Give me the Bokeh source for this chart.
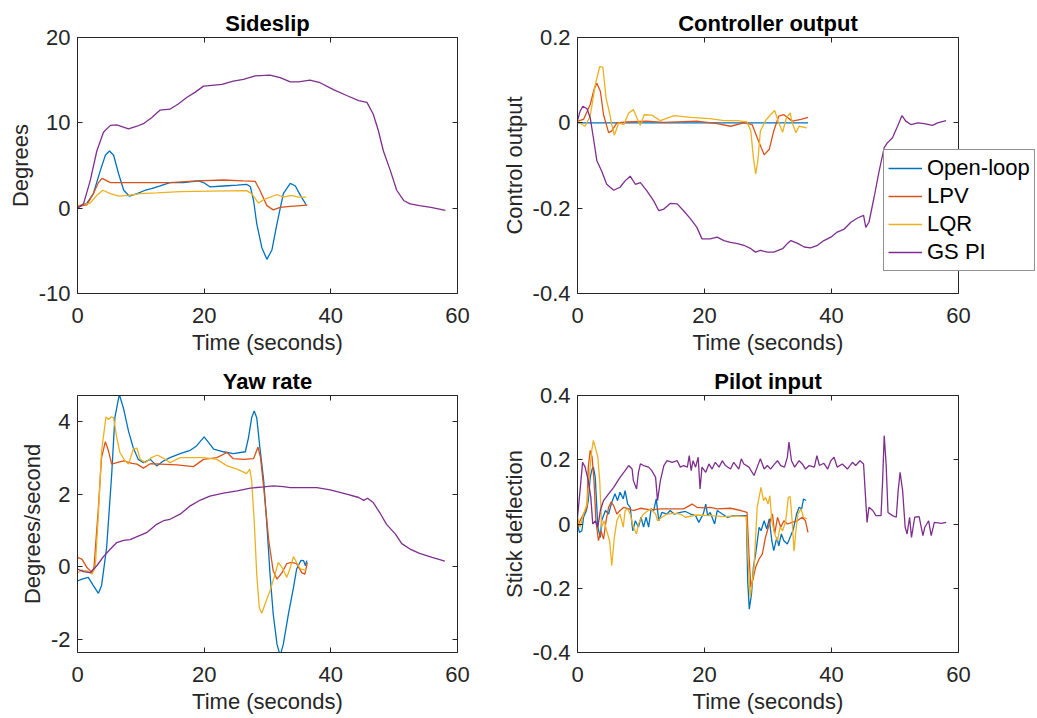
from bokeh.plotting import figure
from bokeh.models import (Range1d, LinearAxis, FixedTicker, Legend, LegendItem,
                          NumeralTickFormatter, CustomLabelingPolicy)
from bokeh.layouts import column, row
from bokeh.embed import file_html
from bokeh.resources import INLINE

# ---------------- data ----------------
series_names = ["Open-loop", "LPV", "LQR", "GS PI"]
series_colors = ["#0072BD", "#D95319", "#EDB120", "#7E2F8E"]

x_ticks = [0, 20, 40, 60]

# Sideslip (degrees)
side_ol_t = [0, 1.5, 2.5, 3.6, 4.4, 5.05, 5.7, 6.5, 7.3, 8.2, 9.4, 10.7, 11.7, 13.05, 14.6, 16.7, 19.1, 19.9, 20.9, 23.05, 25.2, 26.7, 27.3, 27.8, 28.3, 29.1, 29.9, 30.7, 31.5, 32.5, 33.6, 34.4, 35.2, 36.1]
side_ol_y = [0.1, 0.6, 1.7, 4.4, 6.2, 6.7, 6.2, 4.0, 2.1, 1.4, 1.7, 2.1, 2.3, 2.6, 3.0, 3.0, 3.2, 3.0, 2.5, 2.6, 2.7, 2.8, 2.5, 0.9, -1.8, -4.6, -6.0, -4.9, -1.8, 1.7, 2.9, 2.6, 1.5, 0.4]
side_lpv_t = [0, 1.5, 2.5, 3.3, 3.9, 5.2, 7.8, 10.9, 14.6, 18.8, 23.05, 26.2, 28.05, 28.8, 29.9, 30.9, 32, 33.6, 36.3]
side_lpv_y = [0.2, 0.4, 1.7, 3.0, 3.5, 3.0, 3.0, 3.0, 3.0, 3.2, 3.3, 3.2, 3.15, 2.1, 0.3, -0.2, 0.1, 0.2, 0.35]
side_lqr_t = [0, 2, 3.05, 4, 5.2, 6.5, 8.05, 9.9, 12.5, 16.2, 20.9, 26.7, 27.5, 28.6, 29.4, 31.5, 32.5, 33.8, 34.9, 36.1]
side_lqr_y = [0.3, 0.6, 1.5, 2.1, 1.7, 1.4, 1.5, 1.7, 1.8, 1.95, 2.0, 2.05, 1.7, 0.6, 1.0, 1.6, 1.3, 1.5, 1.3, 1.3]
side_gs_t = [0, 0.95, 2, 3.05, 4.1, 5.2, 6.2, 8.05, 9.4, 10.4, 11.7, 13.05, 14.6, 15.9, 17.3, 18.6, 19.9, 21.2, 22.8, 24.6, 26.2, 28.05, 30.4, 32, 33.6, 34.9, 36.7, 38.3, 40.4, 42.5, 44.4, 45.7, 46.7, 47.5, 48.3, 49.4, 50.4, 51.5, 52.5, 54, 55.8, 58.1]
side_gs_y = [0, 0.5, 3.2, 6.7, 8.9, 9.7, 9.75, 9.3, 9.6, 9.9, 10.6, 11.5, 11.6, 12.2, 13.0, 13.6, 14.3, 14.4, 14.5, 14.9, 15.1, 15.5, 15.6, 15.3, 14.8, 14.8, 15.0, 14.7, 13.9, 13.2, 12.6, 12.4, 11.0, 9.1, 6.7, 4.4, 2.1, 0.9, 0.5, 0.3, 0.1, -0.25]

# Controller output
ctrl_ol_t = [0, 9, 18, 27, 36.3]
ctrl_ol_y = [0, 0, 0, 0, 0]
ctrl_lpv_t = [0, 0.95, 2, 2.6, 3.05, 3.6, 4.1, 4.9, 5.4, 6.2, 7.8, 10.9, 13.6, 18.8, 22, 24.1, 26.2, 27.5, 28.3, 29.4, 30.2, 30.9, 31.7, 32.5, 33.8, 35.2, 36.3]
ctrl_lpv_y = [0.004, 0.008, 0.043, 0.078, 0.093, 0.074, 0.019, -0.023, -0.019, 0, 0.002, 0.004, 0.001, 0.004, -0.002, -0.008, 0, -0.004, -0.035, -0.075, -0.062, -0.019, 0.016, 0.019, 0.004, 0.008, 0.013]
ctrl_lqr_t = [0, 0.7, 1.2, 2, 2.8, 3.5, 4, 4.5, 5.05, 5.4, 5.8, 6.5, 7.3, 8.05, 8.8, 9.4, 9.9, 10.5, 11.7, 13.05, 15.2, 17.8, 20.9, 23.05, 25.2, 26.7, 27.3, 27.7, 28.05, 28.4, 28.8, 29.6, 30.4, 31.05, 31.6, 32.3, 32.9, 33.5, 33.8, 34.4, 34.9, 36.1]
ctrl_lqr_y = [0.005, -0.004, -0.008, 0.016, 0.089, 0.132, 0.13, 0.058, 0.023, -0.004, -0.029, 0, -0.004, 0.023, 0.031, 0.01, -0.006, 0.019, 0.018, 0.005, 0.017, 0.013, 0.01, 0.005, 0.005, 0.002, -0.019, -0.082, -0.12, -0.089, -0.019, 0.005, 0.019, 0.029, 0.004, -0.022, 0.012, 0.023, 0, -0.023, -0.008, -0.012]
ctrl_gs_t = [0, 0.4, 0.84, 1.5, 2, 2.5, 3.05, 3.8, 4.6, 5.7, 6.7, 7.5, 8.3, 9.1, 9.9, 10.9, 12, 12.8, 13.6, 14.6, 15.7, 16.7, 17.8, 18.8, 19.6, 20.9, 22, 23.05, 24.1, 25.2, 26.2, 27.3, 28.05, 28.8, 29.9, 30.9, 32.3, 33.05, 33.6, 34.6, 35.7, 36.7, 37.8, 38.8, 39.9, 40.9, 42, 43.05, 44.1, 45.05, 45.4, 45.9, 46.7, 47.5, 48.3, 48.8, 49.6, 50.4, 51.1, 51.7, 52.5, 53.6, 54.6, 55.9, 56.7, 58.05]
ctrl_gs_y = [0.005, 0.027, 0.039, 0.033, 0.012, -0.035, -0.089, -0.113, -0.144, -0.158, -0.151, -0.136, -0.125, -0.144, -0.14, -0.159, -0.183, -0.206, -0.202, -0.189, -0.19, -0.206, -0.225, -0.245, -0.272, -0.272, -0.268, -0.276, -0.28, -0.283, -0.287, -0.295, -0.303, -0.299, -0.303, -0.303, -0.295, -0.283, -0.276, -0.282, -0.291, -0.293, -0.287, -0.276, -0.268, -0.256, -0.249, -0.233, -0.223, -0.217, -0.245, -0.233, -0.175, -0.113, -0.058, -0.047, -0.035, -0.008, 0.017, 0.004, -0.004, 0, -0.002, -0.006, 0, 0.005]

# Yaw rate (degrees/second)
yaw_ol_t = [0, 0.7, 1.7, 2.5, 3.3, 3.8, 4.6, 5.4, 5.9, 6.6, 7.3, 8.05, 8.8, 9.6, 10.4, 11.5, 12.5, 13.6, 14.6, 16.2, 17.8, 18.8, 20, 20.9, 21.5, 23.05, 24.6, 26.5, 27, 27.5, 27.9, 28.3, 28.8, 29.4, 29.9, 30.4, 30.9, 31.5, 32, 32.5, 33.3, 34.1, 34.6, 35.3, 35.7, 36, 36.2]
yaw_ol_y = [-0.39, -0.34, -0.29, -0.52, -0.73, -0.52, 0.53, 2.55, 4.11, 4.75, 4.34, 3.74, 3.28, 2.96, 2.87, 2.96, 2.78, 2.92, 3.01, 3.12, 3.21, 3.33, 3.58, 3.38, 3.24, 3.17, 3.12, 3.17, 3.56, 4.11, 4.29, 4.11, 3.28, 2.37, 1.17, -0.2, -1.3, -2.13, -2.45, -2.13, -1.3, -0.57, -0.06, 0.18, 0.17, 0.03, 0.17]
yaw_lpv_t = [0, 0.7, 1.5, 2.3, 2.6, 3.3, 3.8, 4.4, 4.9, 5.4, 6.2, 7.3, 8.6, 9.4, 10.4, 11.5, 13.05, 15.7, 18.3, 19.9, 22, 23.6, 24.6, 26.2, 27.8, 28.5, 28.9, 29.4, 30.2, 30.9, 31.5, 32.3, 33.05, 33.8, 34.6, 35.4, 35.9, 36.3]
yaw_lpv_y = [0.26, 0.21, -0.02, -0.16, -0.02, 1.63, 3.01, 3.45, 3.19, 2.83, 2.87, 2.92, 2.85, 2.83, 2.72, 2.84, 2.83, 2.81, 2.76, 2.96, 3.01, 3.15, 2.98, 2.96, 2.98, 3.3, 3.01, 2.18, 0.72, -0.11, -0.34, -0.16, 0.09, 0.12, 0.09, -0.16, -0.2, 0.12]
yaw_lqr_t = [0, 0.7, 1.5, 2.3, 2.8, 3.3, 3.8, 4.5, 4.9, 5.3, 5.7, 6.2, 6.7, 7.5, 8.05, 8.8, 9.4, 9.9, 10.7, 11.7, 12.6, 13.6, 14.6, 16.2, 17.8, 19.9, 22, 23.6, 25.2, 26.7, 27.2, 27.5, 27.9, 28.3, 28.7, 29.1, 29.6, 30.4, 31.2, 31.7, 32.3, 33.05, 33.6, 34.1, 34.6, 35.2, 36.1]
yaw_lqr_y = [-0.16, -0.09, -0.11, -0.2, -0.02, 1.45, 3.19, 4.13, 4.06, 4.13, 4.11, 3.56, 3.15, 2.92, 2.83, 3.24, 3.27, 2.96, 2.87, 3.01, 3.08, 2.99, 2.87, 3.01, 3.01, 3.01, 2.96, 2.78, 2.69, 2.57, 2.69, 2.37, 1.27, -0.2, -1.12, -1.28, -1.03, -0.66, -0.2, 0.12, -0.02, -0.29, -0.02, 0.28, 0.12, -0.06, -0.09]
yaw_gs_t = [0, 0.95, 2, 3.05, 4.1, 5.2, 6.2, 7.3, 8.3, 9.4, 10.9, 12.5, 13.6, 14.6, 16.2, 17.8, 19.4, 20.9, 23.05, 25.2, 27.3, 29.4, 30.9, 32.5, 33.6, 35.7, 37.8, 39.9, 42.5, 44.4, 45.2, 45.8, 46.7, 47.8, 48.8, 50.2, 51.2, 52.5, 54, 56, 58]
yaw_gs_y = [-0.06, -0.13, -0.16, 0.03, 0.28, 0.49, 0.67, 0.73, 0.75, 0.83, 0.94, 1.17, 1.27, 1.31, 1.45, 1.68, 1.84, 1.95, 2.03, 2.09, 2.17, 2.2, 2.23, 2.21, 2.18, 2.18, 2.18, 2.12, 2.0, 1.91, 1.83, 1.89, 1.77, 1.47, 1.17, 0.9, 0.64, 0.49, 0.37, 0.26, 0.16]

# Pilot input (stick deflection)
pil_ol_t = [0, 0.3, 0.7, 0.95, 1.4, 1.7, 2, 2.3, 2.5, 2.8, 3.2, 3.6, 3.8, 4.4, 4.9, 5.4, 5.9, 6.3, 6.7, 7.2, 7.5, 7.9, 8.3, 8.7, 9.1, 9.6, 10, 10.4, 10.8, 11.2, 11.6, 12, 12.4, 12.8, 13.3, 14.1, 14.6, 15.2, 16.2, 17, 17.8, 18.6, 19.1, 19.8, 20.2, 20.5, 20.9, 21.6, 22, 22.8, 23.6, 24.6, 25.7, 26.6, 26.8, 27.05, 27.4, 27.7, 28.05, 28.6, 28.9, 29.4, 29.8, 30.2, 30.6, 30.9, 31.4, 31.7, 32.1, 32.5, 33.05, 33.6, 34, 34.5, 34.9, 35.3, 35.6, 36]
pil_ol_y = [0, -0.026, -0.021, 0.021, 0.042, 0.073, 0.145, 0.171, 0.177, 0.145, -0.01, -0.042, 0.01, 0.042, 0.031, 0.068, 0.094, 0.073, 0.099, 0.078, 0.104, 0.062, 0.052, -0.021, 0.01, -0.01, 0.021, -0.01, 0.021, -0.01, 0.047, 0.042, 0.078, 0.01, 0.036, 0.031, 0.042, 0.031, 0.036, 0.039, 0.031, 0.026, 0.005, 0.031, 0.062, 0.026, 0.036, 0, 0.042, 0.031, 0.021, 0.026, 0.026, 0.026, -0.177, -0.265, -0.218, -0.135, -0.094, -0.01, -0.021, 0.01, -0.016, 0.016, -0.052, -0.083, -0.042, -0.068, -0.031, -0.052, -0.062, -0.036, -0.016, 0.031, 0.052, 0.047, 0.078, 0.073]
pil_lpv_t = [0, 0.4, 0.95, 1.5, 1.7, 2, 2.3, 2.6, 2.9, 3.3, 3.7, 4.1, 4.5, 4.9, 5.3, 5.7, 6.2, 6.7, 7.3, 8.05, 8.8, 9.9, 11.5, 13.05, 15.2, 16.7, 18.05, 18.8, 19.9, 20.9, 22, 24.1, 25.7, 26.7, 27, 27.3, 27.7, 28.05, 28.6, 29.1, 29.6, 30.2, 30.7, 31.05, 31.5, 32, 32.5, 33.05, 33.8, 34.6, 35.4, 35.9, 36.3]
pil_lpv_y = [-0.01, 0.01, 0.031, 0.052, 0.177, 0.229, 0.208, 0.135, 0.01, -0.052, -0.021, -0.047, 0.01, 0.052, 0.068, 0.057, 0.031, 0.042, 0.052, 0.047, 0.042, 0.049, 0.044, 0.047, 0.047, 0.047, 0.062, 0.052, 0.05, 0.052, 0.047, 0.049, 0.042, 0.036, -0.094, -0.197, -0.166, -0.135, -0.109, -0.094, -0.042, 0, 0.031, -0.031, 0.021, -0.01, 0.01, 0, 0.005, 0.01, 0.021, 0.01, -0.026]
pil_lqr_t = [0, 0.4, 0.95, 1.5, 1.9, 2.2, 2.5, 2.8, 3.2, 3.5, 3.8, 4.2, 4.6, 5.05, 5.4, 5.8, 6.2, 6.7, 7.2, 7.5, 7.9, 8.3, 8.8, 9.3, 9.6, 10.2, 10.7, 11.5, 12.3, 12.6, 13.3, 14.1, 15.2, 16.2, 17, 18.8, 20.9, 23.05, 25.2, 26.6, 26.9, 27.2, 27.4, 27.8, 28.05, 28.3, 28.7, 28.9, 29.3, 29.6, 30, 30.3, 30.6, 31.05, 31.5, 31.9, 32.3, 32.8, 33.2, 33.5, 33.8, 34.1, 34.4, 34.7, 35.2, 35.6, 36.1]
pil_lqr_y = [0.021, -0.01, 0.031, 0.062, 0.156, 0.223, 0.26, 0.239, 0.208, 0.135, -0.01, 0.01, -0.021, -0.052, -0.13, -0.042, 0.01, 0.031, -0.01, 0.042, 0.047, 0.031, -0.01, -0.031, 0, 0.026, 0.036, 0.047, 0.031, 0.01, 0.021, 0.031, 0.033, 0.031, 0.021, 0.028, 0.026, 0.023, 0.025, 0.023, -0.125, -0.229, -0.197, -0.135, -0.042, 0.052, 0.094, 0.114, 0.073, 0.083, 0.062, 0.088, 0.01, -0.031, -0.052, -0.01, -0.021, 0.01, 0.083, 0.085, 0.01, -0.085, -0.021, 0.031, 0.047, 0.021, 0.016]
pil_gs_t = [0, 0.4, 0.8, 1.2, 1.7, 2.1, 2.4, 2.8, 3.2, 3.6, 4.1, 4.9, 5.7, 6.7, 7.5, 8.05, 8.6, 8.8, 9.3, 9.6, 9.9, 10.4, 11.2, 11.7, 12.3, 12.6, 13.05, 13.6, 14.1, 14.9, 15.7, 16.2, 16.7, 17.3, 17.6, 17.9, 18.2, 18.6, 19, 19.3, 19.6, 20.2, 20.7, 21.2, 21.7, 22.3, 22.8, 23.3, 24.1, 24.6, 25.4, 25.8, 26.2, 27, 27.8, 28.3, 28.8, 29.4, 29.9, 30.4, 31.05, 31.5, 32, 32.6, 33.05, 33.3, 33.7, 34.2, 34.9, 35.4, 35.9, 36.5, 37.3, 37.7, 38.1, 38.8, 39.4, 39.9, 40.4, 40.9, 41.7, 42.5, 43.3, 43.8, 44.5, 45.05, 45.3, 45.6, 45.9, 46.5, 47, 47.8, 48.05, 48.3, 48.6, 48.9, 49.6, 50.2, 50.5, 50.8, 51.2, 51.6, 51.9, 52.3, 52.6, 53.1, 53.8, 54.4, 54.7, 55.3, 55.7, 56.2, 57.3, 58.05]
pil_gs_y = [0.021, 0.104, 0.192, 0.177, 0.135, 0.083, 0, 0.01, -0.01, 0.042, 0.073, 0.094, 0.114, 0.145, 0.166, 0.182, 0.171, 0.135, 0.109, 0.161, 0.187, 0.182, 0.177, 0.166, 0.145, 0.073, 0.135, 0.182, 0.197, 0.192, 0.197, 0.177, 0.182, 0.177, 0.213, 0.166, 0.197, 0.177, 0.208, 0.109, 0.177, 0.161, 0.187, 0.171, 0.192, 0.177, 0.197, 0.182, 0.171, 0.192, 0.171, 0.203, 0.187, 0.177, 0.151, 0.177, 0.203, 0.171, 0.182, 0.171, 0.187, 0.197, 0.182, 0.177, 0.208, 0.255, 0.197, 0.177, 0.197, 0.187, 0.171, 0.182, 0.177, 0.213, 0.182, 0.189, 0.171, 0.197, 0.208, 0.177, 0.187, 0.171, 0.192, 0.182, 0.197, 0.187, 0.104, 0.005, 0.052, 0.042, 0.026, 0.026, 0.135, 0.275, 0.187, 0.036, 0.026, 0.021, 0.104, 0.161, 0.104, -0.01, -0.031, 0.021, -0.042, 0.021, 0.023, -0.036, -0.01, 0.01, -0.036, 0.005, 0.002, 0.005]

# ---------------- styling helpers ----------------
FONT = "Liberation Sans"
AXC = "#262626"
FS = "22px"

HIDE_LABELS = "const ids = [...indices]; for (const i of ids) { indices.unset(i) } return indices"


def style_axis(ax, ticks, show_labels=True, standoff=10):
    ax.ticker = FixedTicker(ticks=ticks)
    ax.formatter = NumeralTickFormatter(format="0.[0]")
    ax.major_tick_in = 5
    ax.major_tick_out = 0
    ax.minor_tick_line_color = None
    ax.axis_line_color = AXC
    ax.axis_line_width = 1
    ax.major_tick_line_color = AXC
    ax.major_label_text_font = FONT
    ax.major_label_text_color = AXC
    ax.axis_label_text_font = FONT
    ax.axis_label_text_font_size = FS
    ax.axis_label_text_font_style = "normal"
    ax.axis_label_text_color = AXC
    if show_labels:
        ax.major_label_text_font_size = FS
        ax.major_label_standoff = standoff
    else:
        ax.major_label_text_font_size = "0px"
        ax.major_label_standoff = 0
        ax.major_label_policy = CustomLabelingPolicy(code=HIDE_LABELS)


def make_panel(title, ylabel, yrange, yticks, width, height, bl, br, bt, bb, data):
    p = figure(width=width, height=height, x_range=Range1d(0, 60), y_range=Range1d(*yrange),
               output_backend="svg", toolbar_location=None,
               min_border_left=bl, min_border_right=br, min_border_top=bt, min_border_bottom=bb)
    p.title.text = title
    p.title.align = "center"
    p.title.text_font = FONT
    p.title.text_font_size = FS
    p.title.text_font_style = "bold"
    p.title.text_color = "black"
    p.title.standoff = 4
    p.xgrid.visible = False
    p.ygrid.visible = False
    p.outline_line_color = None
    p.background_fill_color = "white"
    p.border_fill_color = "white"

    style_axis(p.xaxis[0], x_ticks, standoff=14)
    p.xaxis[0].axis_label = "Time (seconds)"
    p.xaxis[0].axis_label_standoff = 4
    style_axis(p.yaxis[0], yticks, standoff=7)
    p.yaxis[0].axis_label = ylabel
    p.yaxis[0].axis_label_standoff = 3

    top = LinearAxis()
    style_axis(top, x_ticks, show_labels=False)
    p.add_layout(top, "above")
    right = LinearAxis()
    style_axis(right, yticks, show_labels=False)
    p.add_layout(right, "right")

    rends = []
    for (t, y), c in zip(data, series_colors):
        rends.append(p.line(t, y, line_color=c, line_width=1.3))
    return p, rends


ctrl_data = [(ctrl_ol_t, ctrl_ol_y), (ctrl_lpv_t, ctrl_lpv_y), (ctrl_lqr_t, ctrl_lqr_y), (ctrl_gs_t, ctrl_gs_y)]

p1, _ = make_panel("Sideslip", "Degrees", (-10, 20), [-10, 0, 10, 20], 477, 361, 77, 20, 37, 68,
                   [(side_ol_t, side_ol_y), (side_lpv_t, side_lpv_y), (side_lqr_t, side_lqr_y), (side_gs_t, side_gs_y)])
p2, _ = make_panel("Controller output", "Control output", (-0.4, 0.2), [-0.4, -0.2, 0, 0.2], 559, 361, 100, 78, 37, 68,
                   ctrl_data)
p3, _ = make_panel("Yaw rate", "Degrees/second", (-2.36, 4.72), [-2, 0, 2, 4], 477, 356, 77, 20, 34, 65,
                   [(yaw_ol_t, yaw_ol_y), (yaw_lpv_t, yaw_lpv_y), (yaw_lqr_t, yaw_lqr_y), (yaw_gs_t, yaw_gs_y)])
p4, _ = make_panel("Pilot input", "Stick deflection", (-0.4, 0.4), [-0.4, -0.2, 0, 0.2, 0.4], 559, 356, 100, 78, 34, 65,
                   [(pil_ol_t, pil_ol_y), (pil_lpv_t, pil_lpv_y), (pil_lqr_t, pil_lqr_y), (pil_gs_t, pil_gs_y)])

# legend: a small transparent overlay plot pulled left (negative margin) so
# that the legend box straddles the right edge of the "Controller output"
# axes.  Its proxy lines use a y range far away from the data so they are
# clipped out, only their legend swatches are drawn.
leg = figure(width=154, height=361, x_range=Range1d(0, 60), y_range=Range1d(10, 11),
             output_backend="svg", toolbar_location=None, x_axis_type=None, y_axis_type=None,
             min_border_left=0, min_border_right=0, min_border_top=37, min_border_bottom=68)
leg.outline_line_color = None
leg.background_fill_color = None
leg.border_fill_color = None
leg_rends = [leg.line(t, y, line_color=c, line_width=1.3) for (t, y), c in zip(ctrl_data, series_colors)]
legend = Legend(items=[LegendItem(label=n, renderers=[r]) for n, r in zip(series_names, leg_rends)],
                location=(1, 22))
legend.label_text_font = FONT
legend.label_text_font_size = FS
legend.label_text_color = "black"
legend.border_line_color = AXC
legend.border_line_width = 1
legend.background_fill_color = "white"
legend.background_fill_alpha = 1
legend.glyph_width = 34
legend.glyph_height = 28
legend.label_height = 28
legend.label_standoff = 5
legend.padding = 4
legend.spacing = 0
legend.margin = 0
leg.add_layout(legend, "center")
leg.margin = (0, 0, 0, -154)

layout = column(row(p1, p2, leg, spacing=0), row(p3, p4, spacing=0), spacing=0)

open("out.html", "w").write(file_html(layout, INLINE))
